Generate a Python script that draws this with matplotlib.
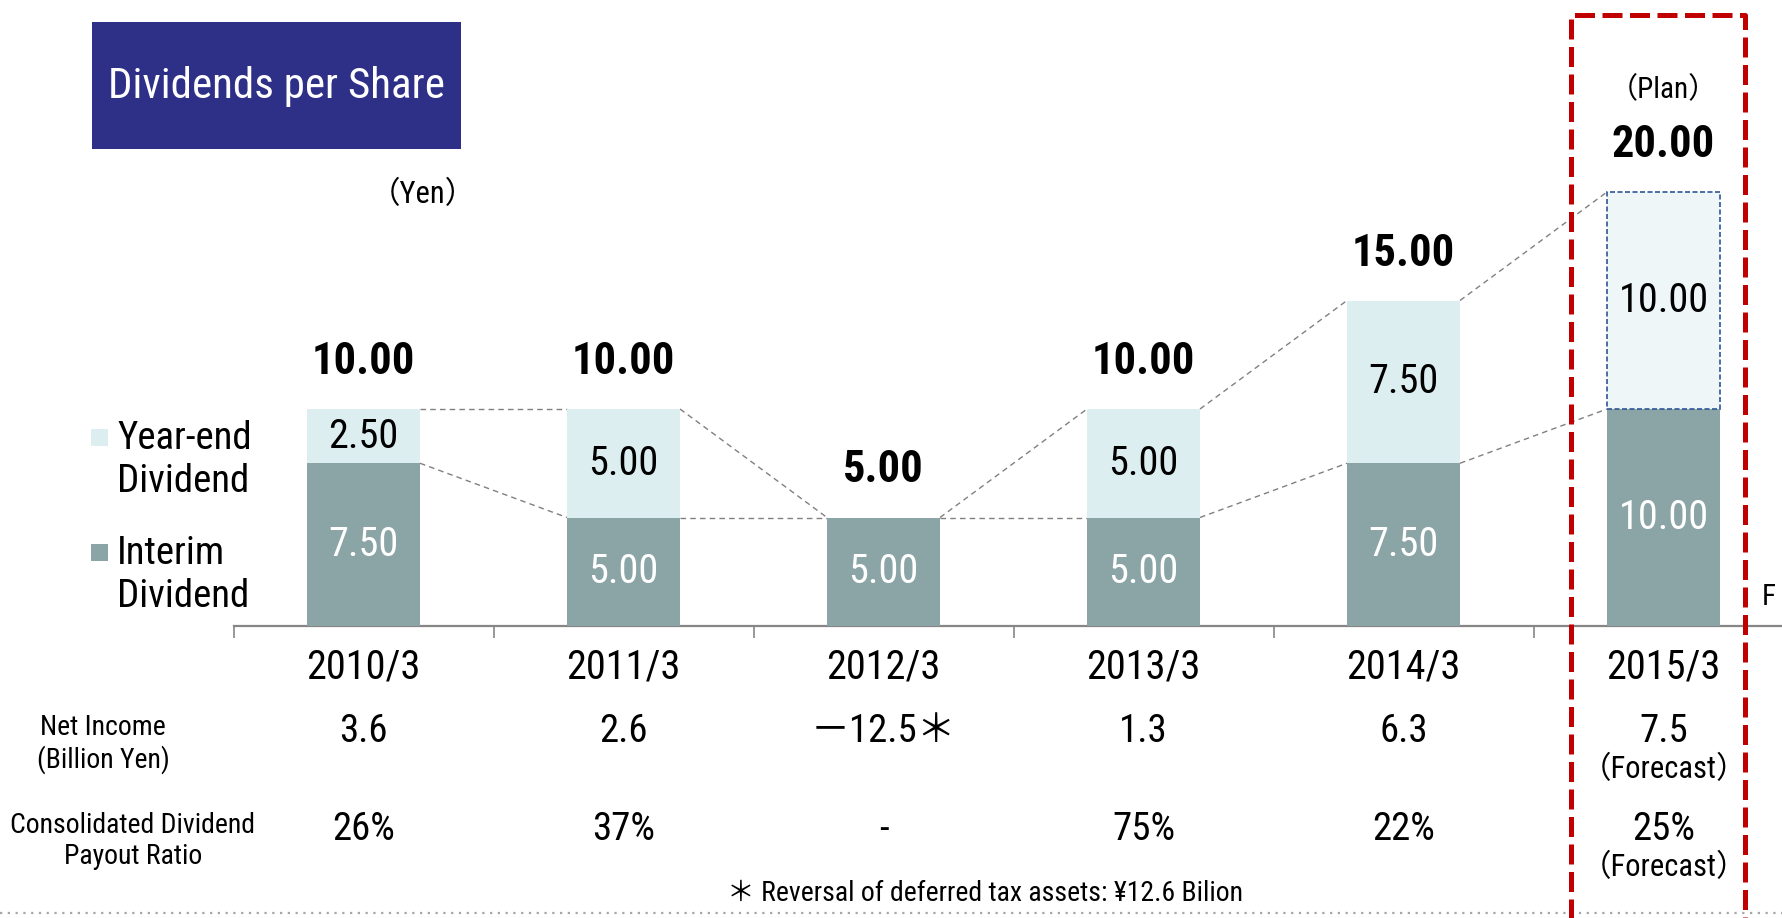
import matplotlib
matplotlib.use("Agg")
import matplotlib.pyplot as plt
from matplotlib.patches import Rectangle

# data
years = ["2010/3", "2011/3", "2012/3", "2013/3", "2014/3", "2015/3"]
interim = [7.5, 5.0, 5.0, 5.0, 7.5, 10.0]
year_end = [2.5, 5.0, 0.0, 5.0, 7.5, 10.0]
totals = [10.0, 10.0, 5.0, 10.0, 15.0, 20.0]
net_income = ["3.6", "2.6", "－12.5＊", "1.3", "6.3", "7.5"]
payout = ["26%", "37%", "-", "75%", "22%", "25%"]

NARROW = ["Roboto Condensed", "IBM Plex Sans Condensed", "Open Sans Condensed",
          "Noto Sans CJK JP", "DejaVu Sans"]
INTERIM_C = "#8BA4A6"
YEAREND_C = "#DDEEF1"
PLAN_C = "#EEF6F8"
GRAY = "#868686"

W, H = 1782, 918
fig = plt.figure(figsize=(W / 100, H / 100), dpi=100)
ax = fig.add_axes([0, 0, 1, 1])

# pixel layout -> data coords (category step 260 px, 21.7 px per yen)
X0, STEP, BASE, UNIT = 363.5, 260.0, 626.0, 21.7
def X(p):
    return (p - X0) / STEP
def Y(p):
    return (BASE - p) / UNIT

ax.set_xlim(X(0), X(W))
ax.set_ylim(Y(H), Y(0))
for s in ["top", "right", "left"]:
    ax.spines[s].set_visible(False)
ax.spines["bottom"].set_position(("data", 0))
ax.spines["bottom"].set_bounds(-0.5, X(W) + 1)
ax.spines["bottom"].set_color(GRAY)
ax.spines["bottom"].set_linewidth(1.6)
ax.set_yticks([])
ax.set_xticks([i - 0.5 for i in range(len(years))])
ax.tick_params(axis="x", direction="out", length=8.5, width=1.2, color=GRAY, labelbottom=False)

x = list(range(len(years)))
bw = 113 / STEP
ax.bar(x, interim, width=bw, color=INTERIM_C, zorder=3)
ye_bars = ax.bar(x, year_end, bottom=interim, width=bw, color=YEAREND_C, zorder=3)
plan = ye_bars[-1]
plan.set_facecolor(PLAN_C)
plan.set_edgecolor("#2F5597")
plan.set_linewidth(1.2)
plan.set_linestyle((0, (3, 1.5)))

# connector lines
for i in range(len(x) - 1):
    for a, b in [(totals[i], totals[i + 1]), (interim[i], interim[i + 1])]:
        ax.plot([x[i] + bw / 2, x[i + 1] - bw / 2], [a, b], color="#808080",
                lw=1.0, dashes=(4, 3), zorder=2)

# value labels
for i in x:
    ax.text(i, interim[i] / 2, "%.2f" % interim[i], ha="center", va="center",
            color="white", fontsize=29, family=NARROW, zorder=4)
    if year_end[i] > 0:
        ax.text(i, interim[i] + year_end[i] / 2, "%.2f" % year_end[i], ha="center",
                va="center", color="black", fontsize=29, family=NARROW, zorder=4)
    ax.text(i, totals[i] + 47 / UNIT, "%.2f" % totals[i], ha="center", va="center",
            fontsize=32, fontweight="bold", family=NARROW)

ax.text(5, Y(90), "（Plan）", ha="center", va="center", fontsize=21, family=NARROW)

# table under the axis
for i in x:
    ax.text(i, Y(667), years[i], ha="center", va="center", fontsize=29, family=NARROW)
    ax.text(i, Y(731), net_income[i], ha="center", va="center", fontsize=28, family=NARROW)
    ax.text(i, Y(829), payout[i], ha="center", va="center", fontsize=28, family=NARROW)
ax.text(5, Y(770), "（Forecast）", ha="center", va="center", fontsize=22, family=NARROW)
ax.text(5, Y(868), "（Forecast）", ha="center", va="center", fontsize=22, family=NARROW)

ax.text(X(103), Y(744), "Net Income\n(Billion Yen)", ha="center", va="center",
        fontsize=20, family=NARROW, linespacing=1.15)
ax.text(X(133), Y(841), "Consolidated Dividend\nPayout Ratio", ha="center", va="center",
        fontsize=20, family=NARROW, linespacing=1.15)
ax.text(X(985), Y(893), "＊ Reversal of deferred tax assets: ¥12.6 Bilion", ha="center",
        va="center", fontsize=20, family=NARROW)
ax.plot([X(0), X(W)], [Y(913), Y(913)], color="#A6A6A6", lw=1.6,
        dashes=(1, 2.5), clip_on=False)

# title box
ax.add_patch(Rectangle((X(92), Y(149)), X(461) - X(92), Y(22) - Y(149),
                       facecolor="#2E3088", edgecolor="none"))
ax.text(X(276.5), Y(86), "Dividends per Share", ha="center", va="center",
        color="white", fontsize=31, family=NARROW)
ax.text(X(423), Y(195), "（Yen）", ha="center", va="center", fontsize=22, family=NARROW)

# legend
for py_sq, label in [(437, "Year-end\nDividend"), (552, "Interim\nDividend")]:
    col = YEAREND_C if label.startswith("Year") else INTERIM_C
    ax.add_patch(Rectangle((X(91), Y(py_sq + 8.5)), X(108) - X(91), Y(py_sq - 8.5) - Y(py_sq + 8.5),
                           facecolor=col, edgecolor="none"))
    ax.text(X(117), Y(py_sq + 23), label, ha="left", va="center", fontsize=28,
            family=NARROW, linespacing=1.2)

# cut-off text at right edge
ax.text(X(1762), Y(597), "F", ha="left", va="center", fontsize=21, family=NARROW)

# red dashed frame around the plan year
ax.plot([X(1571), X(1571), X(1745), X(1745)], [Y(H + 10), Y(15), Y(15), Y(H + 10)],
        color="#C00000", lw=3.6, dashes=(4, 1.5), zorder=6, clip_on=False)

fig.savefig("out.png", dpi=100)
